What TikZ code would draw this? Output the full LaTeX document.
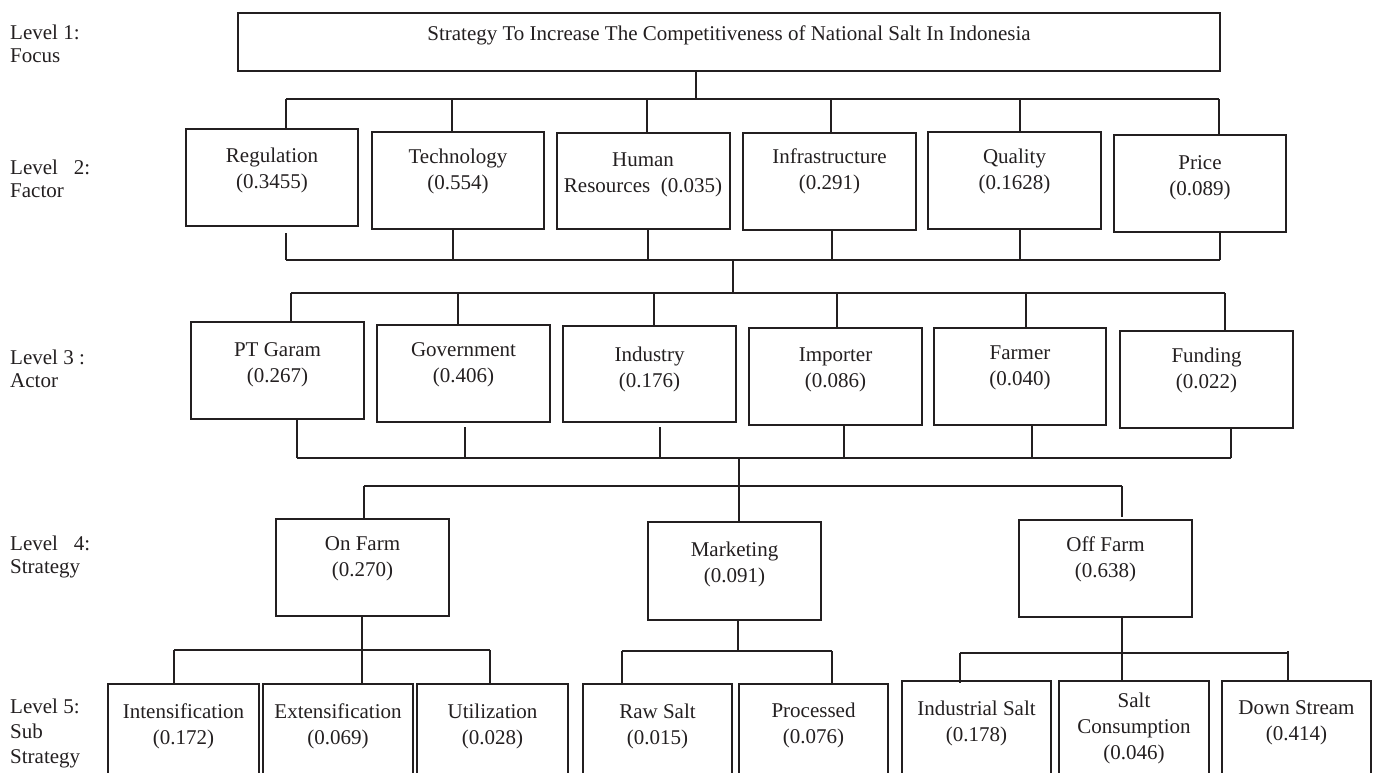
\documentclass[tikz,border=0pt]{standalone}
\usepackage{fontspec}
\setmainfont{Liberation Serif}
\definecolor{ink}{RGB}{35,31,32}
\newcommand\bx[5]{\node[box, minimum width={#4-#2}, minimum height={#5-#3}] (#1) at ({(#2+#4)/2},{(#3+#5)/2}) {};}
\begin{document}
\begin{tikzpicture}[x=1pt,y=-1pt,
  box/.style={draw=ink, line width=2.4pt, inner sep=0pt, outer sep=0pt},
  txt/.style={text=ink, align=center, font=\fontsize{21}{26}\selectfont, inner sep=0pt},
  lbl/.style={text=ink, align=left, anchor=west, font=\fontsize{21}{23}\selectfont, inner sep=0pt},
  conn/.style={draw=ink, line width=2pt}]
\useasboundingbox (0,0) rectangle (1375,773);
\clip (0,0) rectangle (1375,773);

% ---------- left labels ----------
\node[lbl] (l1) at (10,43.5) {Level 1:\\Focus};
\node[lbl] (l2) at (10,178.5) {Level\ \ \ 2:\\Factor};
\node[lbl] (l3) at (10,368.5) {Level 3 :\\Actor};
\node[lbl] (l4) at (10,556.5) {Level\ \ \ 4:\\Strategy};
\node[lbl, font=\fontsize{21}{25}\selectfont] (l5) at (10,733) {Level 5:\\Sub\\Strategy};

% ---------- level 1 ----------
\bx{top}{238}{13}{1220}{71}
\node[txt] (topT) at (729,35) {Strategy To Increase The Competitiveness of National Salt In Indonesia};

% ---------- level 2 ----------
\bx{reg}{186}{129}{358}{226}
\bx{tech}{372}{132}{544}{229}
\bx{hr}{557}{133}{730}{229}
\bx{inf}{743}{133}{916}{230}
\bx{qual}{928}{132}{1101}{229}
\bx{price}{1114}{135}{1286}{232}
\node[txt] (regT) at (272,170) {Regulation\\(0.3455)};
\node[txt] (techT) at (458,171.5) {Technology\\(0.554)};
\node[txt] (hrT) at (643,175) {Human\\Resources\ \ (0.035)};
\node[txt] (infT) at (829.5,171.5) {Infrastructure\\(0.291)};
\node[txt] (qualT) at (1014.5,171) {Quality\\(0.1628)};
\node[txt] (priceT) at (1200,177.5) {Price\\(0.089)};

% ---------- level 3 ----------
\bx{pt}{191}{322}{364}{419}
\bx{gov}{377}{325}{550}{422}
\bx{ind}{563}{326}{736}{422}
\bx{imp}{749}{328}{922}{425}
\bx{farm}{934}{328}{1106}{425}
\bx{fund}{1120}{331}{1293}{428}
\node[txt] (ptT) at (277.5,365) {PT Garam\\(0.267)};
\node[txt] (govT) at (463.5,365) {Government\\(0.406)};
\node[txt] (indT) at (649.5,369) {Industry\\(0.176)};
\node[txt] (impT) at (835.5,370) {Importer\\(0.086)};
\node[txt] (farmT) at (1020,367.5) {Farmer\\(0.040)};
\node[txt] (fundT) at (1206.5,370) {Funding\\(0.022)};

% ---------- level 4 ----------
\bx{onf}{276}{519}{449}{616}
\bx{mkt}{648}{522}{821}{620}
\bx{off}{1019}{520}{1192}{617}
\node[txt] (onfT) at (362.5,559) {On Farm\\(0.270)};
\node[txt] (mktT) at (734.5,564) {Marketing\\(0.091)};
\node[txt] (offT) at (1105.5,559.5) {Off Farm\\(0.638)};

% ---------- level 5 ----------
\bx{ins}{108}{684}{259}{790}
\bx{ext}{263}{684}{413}{790}
\bx{uti}{417}{684}{568}{790}
\bx{raw}{583}{684}{732}{790}
\bx{pro}{739}{684}{888}{790}
\bx{isalt}{902}{681}{1051}{790}
\bx{scon}{1059}{681}{1209}{790}
\bx{down}{1222}{681}{1371}{790}
\node[txt] (insT) at (183.5,726) {Intensification\\(0.172)};
\node[txt] (extT) at (338,726) {Extensification\\(0.069)};
\node[txt] (utiT) at (492.5,726) {Utilization\\(0.028)};
\node[txt] (rawT) at (657.5,726) {Raw Salt\\(0.015)};
\node[txt] (proT) at (813.5,725) {Processed\\(0.076)};
\node[txt] (isaltT) at (976.5,723) {Industrial Salt\\(0.178)};
\node[txt] (sconT) at (1134,728) {Salt\\Consumption\\(0.046)};
\node[txt] (downT) at (1296.5,723) {Down Stream\\(0.414)};

% ---------- connectors: level 1 -> level 2 ----------
\coordinate (b1L) at (286,99);
\coordinate (b1R) at (1219,99);
\coordinate (b1M) at (696,99);
\draw[conn] (top.south -| b1M) -- (b1M);
\draw[conn] (b1L) -- (b1R);
\draw[conn] (b1L) -- (reg.north -| b1L);
\draw[conn] (452,99) -- (tech.north -| 452,0);
\draw[conn] (647,99) -- (hr.north -| 647,0);
\draw[conn] (831,99) -- (inf.north -| 831,0);
\draw[conn] (1020,99) -- (qual.north -| 1020,0);
\draw[conn] (b1R) -- (price.north -| b1R);

% ---------- level 2 -> level 3 ----------
\coordinate (b2L) at (286,260);
\coordinate (b2R) at (1220,260);
\coordinate (b2M) at (733,260);
\coordinate (b3L) at (291,293);
\coordinate (b3R) at (1225,293);
\coordinate (b3M) at (733,293);
\draw[conn] (286,233) -- (b2L);
\draw[conn] (tech.south -| 453,0) -- (453,260);
\draw[conn] (hr.south -| 648,0) -- (648,260);
\draw[conn] (inf.south -| 832,0) -- (832,260);
\draw[conn] (qual.south -| 1020,0) -- (1020,260);
\draw[conn] (price.south -| b2R) -- (b2R);
\draw[conn] (b2L) -- (b2R);
\draw[conn] (b2M) -- (b3M);
\draw[conn] (b3L) -- (b3R);
\draw[conn] (b3L) -- (pt.north -| b3L);
\draw[conn] (458,293) -- (gov.north -| 458,0);
\draw[conn] (654,293) -- (ind.north -| 654,0);
\draw[conn] (837,293) -- (imp.north -| 837,0);
\draw[conn] (1026,293) -- (farm.north -| 1026,0);
\draw[conn] (b3R) -- (fund.north -| b3R);

% ---------- level 3 -> level 4 ----------
\coordinate (b4L) at (297,458);
\coordinate (b4R) at (1231,458);
\coordinate (b4M) at (739,458);
\coordinate (b5L) at (364,486);
\coordinate (b5R) at (1122,486);
\draw[conn] (pt.south -| b4L) -- (b4L);
\draw[conn] (465,427) -- (465,458);
\draw[conn] (660,427) -- (660,458);
\draw[conn] (imp.south -| 844,0) -- (844,458);
\draw[conn] (farm.south -| 1032,0) -- (1032,458);
\draw[conn] (fund.south -| b4R) -- (b4R);
\draw[conn] (b4L) -- (b4R);
\draw[conn] (b4M) -- (mkt.north -| b4M);
\draw[conn] (b5L) -- (b5R);
\draw[conn] (b5L) -- (onf.north -| b5L);
\draw[conn] (b5R) -- (1122,517);

% ---------- level 4 -> level 5 ----------
\coordinate (c1L) at (174,650);
\coordinate (c1R) at (490,650);
\coordinate (c1M) at (362,650);
\draw[conn] (onf.south -| c1M) -- (c1M);
\draw[conn] (c1L) -- (c1R);
\draw[conn] (c1L) -- (ins.north -| c1L);
\draw[conn] (c1M) -- (ext.north -| c1M);
\draw[conn] (c1R) -- (uti.north -| c1R);

\coordinate (c2L) at (622,651);
\coordinate (c2R) at (832,651);
\coordinate (c2M) at (738,651);
\draw[conn] (mkt.south -| c2M) -- (c2M);
\draw[conn] (c2L) -- (c2R);
\draw[conn] (c2L) -- (raw.north -| c2L);
\draw[conn] (c2R) -- (pro.north -| c2R);

\coordinate (c3L) at (960,653);
\coordinate (c3R) at (1288,653);
\coordinate (c3M) at (1122,653);
\draw[conn] (off.south -| c3M) -- (c3M);
\draw[conn] (c3L) -- (c3R);
\draw[conn] (c3L) -- (960,683);
\draw[conn] (c3M) -- (scon.north -| c3M);
\draw[conn] (1288,651) -- (down.north -| 1288,0);
\end{tikzpicture}
\end{document}
